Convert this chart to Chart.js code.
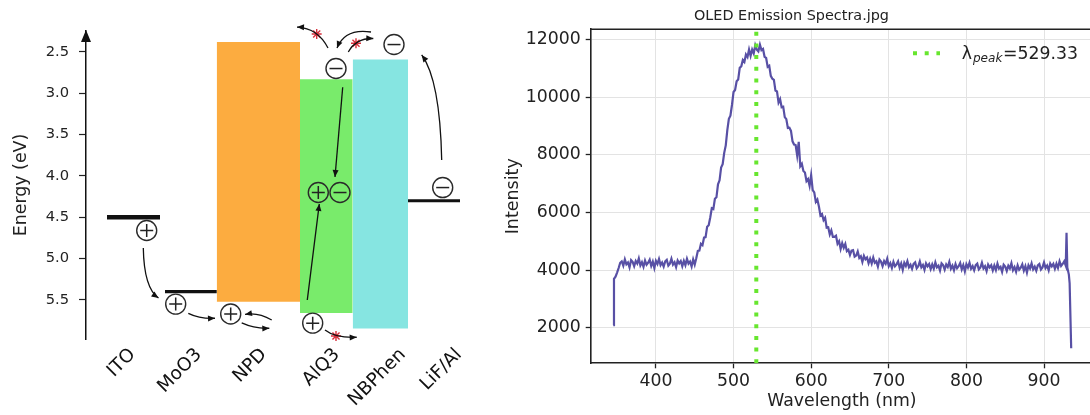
<!DOCTYPE html>
<html><head><meta charset="utf-8">
<script src="https://cdn.jsdelivr.net/npm/chart.js@4.4.0/dist/chart.umd.min.js"></script>
<style>
html,body{margin:0;padding:0;background:#fff;overflow:hidden;width:1090px;height:415px;position:relative;}
#left{position:absolute;left:0;top:0;}
#right{position:absolute;left:490px;top:0;}
</style></head><body>
<canvas id="left" width="490" height="415"></canvas>
<canvas id="right" width="606" height="415"></canvas>
<script>
// ---------- LEFT: energy level diagram data ----------
const layerNames   = ['ITO', 'MoO3', 'NPD', 'AlQ3', 'NBPhen', 'LiF/Al'];
const layerTickPos = [4.67, 11.3, 17.8, 25.1, 31.7, 37.3];
const layerStart   = [2.1, 7.9, 13.07, 21.4, 26.67, 32.2];
const layerEnd     = [7.4, 13.07, 21.4, 26.67, 32.2, 37.4];
const lumoLevels   = [null, null, 2.38, 2.83, 2.59, null];
const homoLevels   = [4.5, 5.4, 5.52, 5.656, 5.845, 4.3];
const energyTicks  = [2.5, 3.0, 3.5, 4.0, 4.5, 5.0, 5.5];
const holeX     = [6.07, 8.97, 14.47, 22.67, 23.23];
const holeE     = [4.66, 5.55, 5.67, 5.78, 4.20];
const electronX = [25.4, 25.0, 30.8, 35.67];
const electronE = [4.20, 2.70, 2.41, 4.14];
const blockedX  = [23.07, 27.0, 25.0];
const blockedE  = [2.282, 2.395, 5.935];
// arrows: [x0, E0, ctrlX, ctrlE, x1, E1]
const arrowPaths = [
  [5.73, 4.871, 5.8, 5.355, 7.25, 5.476],
  [10.23, 5.661, 11.4, 5.73, 12.9, 5.721],
  [18.57, 5.742, 17.2, 5.645, 15.9, 5.675],
  [15.57, 5.778, 16.9, 5.851, 18.33, 5.842],
  [22.13, 5.5, 22.73, 4.92, 23.33, 4.339],
  [25.67, 2.927, 25.285, 3.47, 24.9, 4.012],
  [23.9, 5.863, 24.9, 5.96, 27.07, 5.951],
  [24.2, 2.452, 23.2, 2.21, 21.1, 2.198],
  [28.5, 2.258, 25.9, 2.21, 25.1, 2.452],
  [26.23, 2.5, 27.0, 2.331, 28.73, 2.337],
  [35.57, 3.806, 35.4, 2.839, 33.57, 2.536]
];
const layerColors = [null, null, '#fcac40', '#79eb6b', '#86e5e1', null];
const metalWidths = [4.5, 3.2, null, null, null, 3];

// ---------- RIGHT: spectrum data ----------
const wavelengths = [345,346,348,350,352,354,356,358,360,362,364,366,368,370,372,374,376,378,380,382,384,386,388,390,392,394,396,398,
400,402,404,406,408,410,412,414,416,418,420,422,424,426,428,430,432,434,436,438,440,442,444,446,448,450,452,454,456,458,
460,462,464,466,468,470,472,474,476,478,480,482,484,486,488,490,492,494,496,498,500,502,504,506,508,510,512,514,516,518,
520,522,524,526,528,530,532,534,536,538,540,542,544,546,548,550,552,554,556,558,560,562,564,566,568,570,572,574,576,578,
580,582,584,586,588,590,592,594,596,598,600,602,604,606,608,610,612,614,616,618,620,622,624,626,628,630,632,634,636,638,
640,642,644,646,648,650,652,654,656,658,660,662,664,666,668,670,672,674,676,678,680,682,684,686,688,690,692,694,696,698,
700,702,704,706,708,710,712,714,716,718,720,722,724,726,728,730,732,734,736,738,740,742,744,746,748,750,752,754,756,758,
760,762,764,766,768,770,772,774,776,778,780,782,784,786,788,790,792,794,796,798,800,802,804,806,808,810,812,814,816,818,
820,822,824,826,828,830,832,834,836,838,840,842,844,846,848,850,852,854,856,858,860,862,864,866,868,870,872,874,876,878,
880,882,884,886,888,890,892,894,896,898,900,902,904,906,908,910,912,914,916,918,920,922,924,926,928,929,930,932,933,935];
const intensities = [2100,3700,3780,3920,4080,4260,4310,4160,4380,4210,4270,4100,4350,4290,4140,4320,4230,4410,4170,4280,4120,4340,4190,4260,4370,4150,4300,4080,
4330,4220,4390,4180,4270,4130,4310,4360,4160,4230,4400,4200,4280,4110,4340,4240,4320,4140,4330,4180,4400,4230,4300,4130,4380,4200,4420,4670,4680,4920,
4870,5130,5150,5510,5560,5830,6150,6120,6480,6530,6980,7120,7560,7680,8070,8330,8860,9250,9360,9730,10180,10250,10550,10610,11020,11070,11290,11220,11480,11390,
11650,11430,11650,11520,11800,11650,11590,11820,11630,11670,11400,11360,11050,11090,10740,10640,10600,10230,10200,9810,9930,9650,9670,9310,9240,8930,8940,8830,8470,8360,
8340,7980,8450,7610,7690,7440,7390,7090,7160,6930,7300,6780,6700,6370,6450,6210,5900,5950,5740,5820,5480,5490,5240,5380,5160,5160,5200,4920,5010,4740,
4940,4780,4910,4660,4710,4530,4680,4700,4470,4510,4650,4430,4490,4290,4500,4380,4440,4245,4400,4235,4440,4260,4310,4130,4370,4300,4145,4320,4225,4400,
4140,4245,4080,4295,4140,4205,4310,4090,4235,4015,4260,4150,4315,4105,4190,4050,4225,4275,4070,4140,4310,4105,4185,4015,4240,4140,4220,4040,4205,4055,
4275,4100,4160,3990,4240,4180,4025,4205,4115,4295,4055,4160,4000,4220,4070,4140,4250,4030,4180,3960,4210,4095,4265,4055,4145,4000,4180,4230,4030,4095,
4265,4065,4140,3970,4200,4100,4175,3995,4165,4010,4230,4060,4120,3945,4195,4130,3980,4160,4065,4245,4000,4110,3950,4170,4020,4090,4205,3985,4140,3920,
4175,4065,4240,4030,4125,3985,4170,4220,4025,4100,4275,4080,4165,4000,4235,4140,4225,4050,4225,4080,4310,4150,4220,4310,4160,5300,4100,3850,3550,1300];
const wavelengthTicks = [400, 500, 600, 700, 800, 900];
const intensityTicks  = [2000, 4000, 6000, 8000, 10000, 12000];
const peakWavelength = 529.33;
const intensityMin = 776, intensityMax = 12354;

Chart.defaults.font.family = "'DejaVu Sans', sans-serif";
Chart.defaults.color = '#222';

// ---------- build left datasets ----------
const leftDatasets = [];
leftDatasets.push({ data: blockedX.map((x, i) => ({x, y: blockedE[i]})), showLine: false, clip: false,
  pointStyle: 'star', pointRadius: 5, pointBorderColor: '#d8303c', pointBorderWidth: 1.4, pointBackgroundColor: '#d8303c' });
leftDatasets.push({ data: holeX.map((x, i) => ({x, y: holeE[i]})), showLine: false, clip: false,
  pointStyle: 'cross', pointRadius: 6.5, pointBorderColor: '#222', pointBorderWidth: 1.5 });
leftDatasets.push({ data: electronX.map((x, i) => ({x, y: electronE[i]})), showLine: false, clip: false,
  pointStyle: 'line', pointRadius: 6.5, pointBorderColor: '#222', pointBorderWidth: 1.5 });
leftDatasets.push({ data: holeX.concat(electronX).map((x, i) => ({x, y: holeE.concat(electronE)[i]})), showLine: false, clip: false,
  pointStyle: 'circle', pointRadius: 10, pointBorderColor: '#2a2a2a', pointBorderWidth: 1.4, pointBackgroundColor: 'rgba(0,0,0,0)' });
layerNames.forEach((n, i) => {
  if (lumoLevels[i] === null) {
    leftDatasets.push({ data: [{x: layerStart[i], y: homoLevels[i]}, {x: layerEnd[i], y: homoLevels[i]}],
      borderColor: '#111', borderWidth: metalWidths[i], pointRadius: 0, fill: false, borderCapStyle: 'butt' });
  }
});
layerNames.forEach((n, i) => {
  if (lumoLevels[i] !== null) {
    leftDatasets.push({ data: [{x: layerStart[i], y: lumoLevels[i]}, {x: layerEnd[i], y: lumoLevels[i]}],
      borderWidth: 0, borderColor: 'rgba(0,0,0,0)', pointRadius: 0, fill: '+1', backgroundColor: layerColors[i] });
    leftDatasets.push({ data: [{x: layerStart[i], y: homoLevels[i]}, {x: layerEnd[i], y: homoLevels[i]}],
      borderWidth: 0, borderColor: 'rgba(0,0,0,0)', pointRadius: 0, fill: false });
  }
});

const arrowPlugin = {
  id: 'arrows',
  afterDatasetsDraw(chart) {
    const {ctx, scales: {x, y}, chartArea} = chart;
    ctx.save();
    ctx.strokeStyle = '#111'; ctx.fillStyle = '#111'; ctx.lineWidth = 1.3;
    const head = (tx, ty, ang, len, hw) => {
      ctx.beginPath();
      ctx.moveTo(tx, ty);
      ctx.lineTo(tx - len * Math.cos(ang) + hw * Math.sin(ang), ty - len * Math.sin(ang) - hw * Math.cos(ang));
      ctx.lineTo(tx - len * Math.cos(ang) - hw * Math.sin(ang), ty - len * Math.sin(ang) + hw * Math.cos(ang));
      ctx.closePath(); ctx.fill();
    };
    for (const a of arrowPaths) {
      const x0 = x.getPixelForValue(a[0]), y0 = y.getPixelForValue(a[1]);
      const cx = x.getPixelForValue(a[2]), cy = y.getPixelForValue(a[3]);
      const x1 = x.getPixelForValue(a[4]), y1 = y.getPixelForValue(a[5]);
      ctx.beginPath(); ctx.moveTo(x0, y0); ctx.quadraticCurveTo(cx, cy, x1, y1); ctx.stroke();
      head(x1, y1, Math.atan2(y1 - cy, x1 - cx), 7, 3);
    }
    const ax = chartArea.left;
    ctx.beginPath();
    ctx.moveTo(ax, chartArea.top - 1);
    ctx.lineTo(ax - 5, chartArea.top + 11);
    ctx.lineTo(ax + 5, chartArea.top + 11);
    ctx.closePath(); ctx.fill();
    ctx.restore();
  }
};

new Chart(document.getElementById('left'), {
  type: 'line',
  data: { datasets: leftDatasets },
  options: {
    responsive: false, animation: false, events: [],
    layout: { autoPadding: false, padding: { left: 0, top: 31, right: 4, bottom: 0 } },
    elements: { point: { radius: 0 }, line: { tension: 0 } },
    plugins: { legend: { display: false }, tooltip: { enabled: false }, title: { display: false } },
    scales: {
      x: {
        type: 'linear', min: 0, max: 40,
        afterBuildTicks: s => { s.ticks = layerTickPos.map(v => ({value: v})); },
        afterFit: s => { s.height = 76; s.paddingLeft = 0; s.paddingRight = 0; },
        grid: { display: false, drawTicks: false },
        border: { display: false },
        ticks: { autoSkip: false, minRotation: 45, maxRotation: 45, padding: 5, color: '#111',
                 font: { size: 18.5 }, callback: (v, i) => layerNames[i] }
      },
      y: {
        type: 'linear', reverse: true, min: 2.246, max: 5.972,
        afterBuildTicks: s => { s.ticks = energyTicks.map(v => ({value: v})); },
        afterFit: s => { s.width = 86; },
        grid: { drawOnChartArea: false, drawTicks: true, tickLength: 7, tickColor: '#222', tickWidth: 1.2 },
        border: { display: true, color: '#111', width: 1.5 },
        ticks: { padding: 10, color: '#222', font: { size: 14.7 }, callback: v => Number(v).toFixed(1) },
        title: { display: true, text: 'Energy (eV)', color: '#222', font: { size: 17.4 }, padding: { top: 11, bottom: 0 } }
      }
    }
  },
  plugins: [arrowPlugin]
});

// ---------- right chart ----------
const framePlugin = {
  id: 'frame',
  afterDraw(chart) {
    const {ctx, chartArea} = chart;
    ctx.save();
    ctx.strokeStyle = '#222'; ctx.lineWidth = 1.6;
    ctx.beginPath();
    ctx.moveTo(chartArea.left, chartArea.top); ctx.lineTo(chartArea.right, chartArea.top);
    ctx.lineTo(chartArea.right, chartArea.bottom);
    ctx.stroke();
    const lx = chartArea.right - 180, ly = 53.3;
    ctx.strokeStyle = '#67e62e'; ctx.lineWidth = 4; ctx.setLineDash([4, 7.7]); ctx.lineCap = 'butt';
    ctx.beginPath(); ctx.moveTo(lx, ly); ctx.lineTo(lx + 27, ly); ctx.stroke();
    ctx.setLineDash([]);
    ctx.fillStyle = '#222'; ctx.textBaseline = 'alphabetic'; ctx.textAlign = 'left';
    let tx = chartArea.right - 131.3;
    ctx.font = "17.3px 'DejaVu Sans'";
    ctx.fillText('λ', tx, 59.3); tx += ctx.measureText('λ').width + 1;
    ctx.font = "italic 12.1px 'DejaVu Sans'";
    ctx.fillText('peak', tx, 62); tx += ctx.measureText('peak').width + 0.5;
    ctx.font = "17.3px 'DejaVu Sans'";
    ctx.fillText('=' + peakWavelength.toFixed(2), tx, 59.3);
    ctx.restore();
  }
};

new Chart(document.getElementById('right'), {
  type: 'line',
  data: { datasets: [
    { data: [{x: peakWavelength, y: intensityMin}, {x: peakWavelength, y: intensityMax}],
      borderColor: '#67e62e', borderWidth: 4, borderDash: [4, 7.7], borderCapStyle: 'butt', pointRadius: 0, fill: false },
    { data: wavelengths.map((w, i) => ({x: w, y: intensities[i]})),
      borderColor: '#5850a5', borderWidth: 2.2, pointRadius: 0, fill: false, tension: 0 }
  ] },
  options: {
    responsive: false, animation: false, events: [],
    layout: { autoPadding: false, padding: { left: 0, top: 0, right: 3, bottom: 0 } },
    plugins: {
      legend: { display: false }, tooltip: { enabled: false },
      title: { display: true, text: 'OLED Emission Spectra.jpg', color: '#222',
               font: { size: 14.4, weight: 'normal' }, padding: { top: 8, bottom: 4 } }
    },
    scales: {
      x: {
        type: 'linear', min: 316, max: 963.1,
        afterBuildTicks: s => { s.ticks = wavelengthTicks.map(v => ({value: v})); },
        afterFit: s => { s.height = 51.7; },
        grid: { color: '#e3e3e3', lineWidth: 1, tickColor: '#222', tickLength: 5, tickWidth: 1.3 },
        border: { color: '#222', width: 1.6 },
        ticks: { padding: 3, color: '#222', font: { size: 17.3 }, maxRotation: 0, autoSkip: false, callback: v => String(v) },
        title: { display: true, text: 'Wavelength (nm)', color: '#222', font: { size: 17.3 }, padding: { top: 0, bottom: 3.5 } }
      },
      y: {
        type: 'linear', min: intensityMin, max: intensityMax,
        afterBuildTicks: s => { s.ticks = intensityTicks.map(v => ({value: v})); },
        afterFit: s => { s.width = 100.7; },
        grid: { color: '#e3e3e3', lineWidth: 1, tickColor: '#222', tickLength: 5, tickWidth: 1.3 },
        border: { color: '#222', width: 1.6 },
        ticks: { padding: 5, color: '#222', font: { size: 17.3 }, autoSkip: false, callback: v => String(v) },
        title: { display: true, text: 'Intensity', color: '#222', font: { size: 17.5 }, padding: { top: 13, bottom: 0 } }
      }
    }
  },
  plugins: [framePlugin]
});
</script>
</body></html>
